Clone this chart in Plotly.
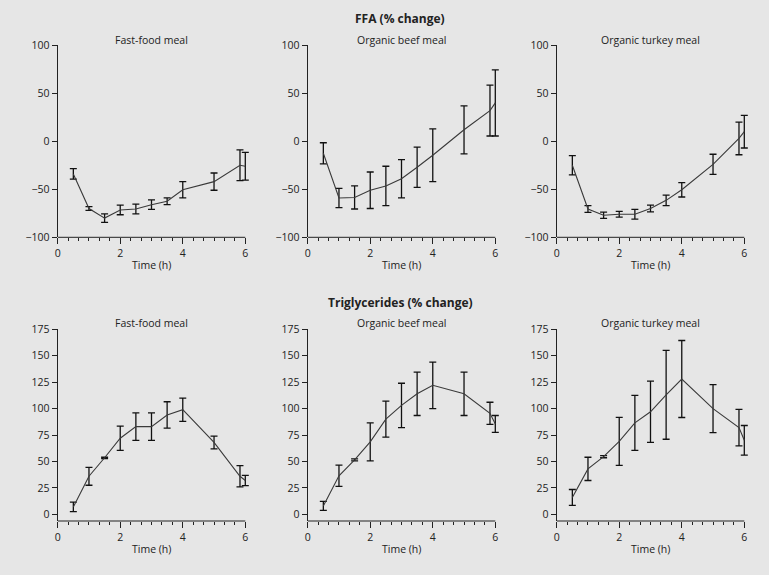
import plotly.graph_objects as go

# ---------------- data ----------------
time_h = [0.5, 1, 1.5, 2, 2.5, 3, 3.5, 4, 5, 5.83, 6]

meals = ["Fast-food meal", "Organic beef meal", "Organic turkey meal"]

ffa_fastfood = [-34, -70, -80, -71.5, -70.5, -66, -62.5, -50.5, -42, -25, -26]
ffa_fastfood_err = [5.5, 2, 4.5, 5, 5, 5, 3.5, 8.5, 9, 16, 14.5]
ffa_beef = [-12.5, -59, -58.5, -51, -46.5, -39, -27, -14.5, 12, 32, 40]
ffa_beef_err = [11, 10, 12, 19, 20.5, 20, 21, 27.5, 25, 26.5, 34.5]
ffa_turkey = [-25, -70.5, -77, -76, -76, -70, -61.5, -50.5, -24, 3, 10]
ffa_turkey_err = [10, 3.5, 3.3, 3, 5, 3.5, 5.5, 7.5, 10.5, 17, 17]

tg_fastfood = [7, 36, 53.5, 72, 83, 83, 94, 99, 68, 36, 32]
tg_fastfood_err = [4.5, 8.5, 0.7, 11.5, 13, 13, 12.5, 11, 6, 10, 4.8]
tg_beef = [8, 36.5, 51.5, 68.5, 90, 103, 114, 122, 114, 95.5, 85.5]
tg_beef_err = [4.3, 10, 1, 18, 17, 21, 20.5, 22, 20.5, 10.5, 8]
tg_turkey = [16, 43, 54.5, 69, 86.5, 97, 113, 128, 100, 82, 70]
tg_turkey_err = [7.5, 11, 1, 22.7, 26, 29, 42, 36.4, 22.7, 17.3, 14]

ffa_ticks = [-100, -50, 0, 50, 100]
tg_ticks = [0, 25, 50, 75, 100, 125, 150, 175]
x_ticks = [0, 2, 4, 6]

row_titles = ["FFA (% change)", "Triglycerides (% change)"]
x_title = "Time (h)"

# ---------------- layout geometry ----------------
W, H = 769, 575
x_px = [(57.7, 245.3), (307.7, 495.3), (556.7, 744.3)]   # pixel positions of x=0 and x=6
y_px = [(45.3, 237.3), (329.3, 521.0)]
y_ranges = [[-100, 100], [-6.3, 175]]
X_MAX = 6.15  # a little room so end caps are not clipped

FONT = "Open Sans"
TXT = "#222222"
BG = "#e6e6e6"

fig = go.Figure()

series = [
    [(ffa_fastfood, ffa_fastfood_err), (ffa_beef, ffa_beef_err), (ffa_turkey, ffa_turkey_err)],
    [(tg_fastfood, tg_fastfood_err), (tg_beef, tg_beef_err), (tg_turkey, tg_turkey_err)],
]

annotations = []
shapes = []
n = 0
for r in range(2):
    for c in range(3):
        n += 1
        xa = "x" if n == 1 else f"x{n}"
        ya = "y" if n == 1 else f"y{n}"
        vals, errs = series[r][c]
        fig.add_trace(go.Scatter(
            x=time_h, y=vals, xaxis=xa, yaxis=ya, mode="lines",
            line=dict(color="#3a3a3a", width=1.1),
            error_y=dict(type="data", array=errs, visible=True,
                         color="#111111", thickness=1.3, width=3.5),
            cliponaxis=False, showlegend=False, hoverinfo="skip"))
        x0, x1 = x_px[c]
        y0, y1 = y_px[r]
        pxh = (x1 - x0) / 6
        xd = [x0 / W, (x0 + X_MAX * pxh) / W]
        yd = [1 - y1 / H, 1 - y0 / H]
        xkey = "xaxis" if n == 1 else f"xaxis{n}"
        ykey = "yaxis" if n == 1 else f"yaxis{n}"
        fig.layout[xkey] = dict(
            domain=xd, anchor=ya, range=[0, X_MAX], tickvals=x_ticks, automargin=False,
            showgrid=False, zeroline=False, showline=False,
            ticks="outside", ticklen=6, tickwidth=1, tickcolor=TXT,
            minor=dict(dtick=1/3, tick0=0, ticks="outside", ticklen=3, tickcolor=TXT, tickwidth=1, showgrid=False),
            tickfont=dict(family=FONT, size=10.5, color=TXT), fixedrange=True)
        fig.layout[ykey] = dict(
            domain=yd, anchor=xa, range=y_ranges[r], automargin=False,
            tickvals=ffa_ticks if r == 0 else tg_ticks,
            showgrid=False, zeroline=False, showline=True, linecolor=TXT, linewidth=1,
            ticks="outside", ticklen=5, tickwidth=1, tickcolor=TXT,
            tickfont=dict(family=FONT, size=10.5, color=TXT), fixedrange=True)
        shapes.append(dict(type="line", xref=xa, yref=f"{ya} domain", x0=0, x1=6, y0=0, y1=0,
                           line=dict(color=TXT, width=1)))
        cx = (x0 + x1) / 2 / W
        annotations.append(dict(text=meals[c], x=cx, y=1 - (39.5 if r == 0 else 323.5) / H,
                                xref="paper", yref="paper", showarrow=False, xanchor="center", yanchor="middle",
                                font=dict(family=FONT, size=10.5, color=TXT)))
        annotations.append(dict(text=x_title, x=cx, y=1 - (265 if r == 0 else 549) / H,
                                xref="paper", yref="paper", showarrow=False, xanchor="center", yanchor="middle",
                                font=dict(family=FONT, size=10.5, color=TXT)))

for r, t in enumerate(row_titles):
    annotations.append(dict(text=f"<b>{t}</b>", x=400 / W, y=1 - (19 if r == 0 else 302) / H,
                            xref="paper", yref="paper", showarrow=False, xanchor="center", yanchor="middle",
                            font=dict(family=FONT, size=12, color=TXT)))

fig.update_layout(width=W, height=H, margin=dict(l=0, r=0, t=0, b=0, pad=0),
                  paper_bgcolor=BG, plot_bgcolor=BG, annotations=annotations, shapes=shapes,
                  font=dict(family=FONT, color=TXT))

post = ("document.documentElement.style.margin='0';document.documentElement.style.padding='0';"
        "document.body.style.margin='0';document.body.style.padding='0';"
        "document.body.style.overflow='hidden';document.body.style.background='%s';" % BG)

fig.write_html("out.html", config={"displayModeBar": False, "responsive": False}, post_script=post)
